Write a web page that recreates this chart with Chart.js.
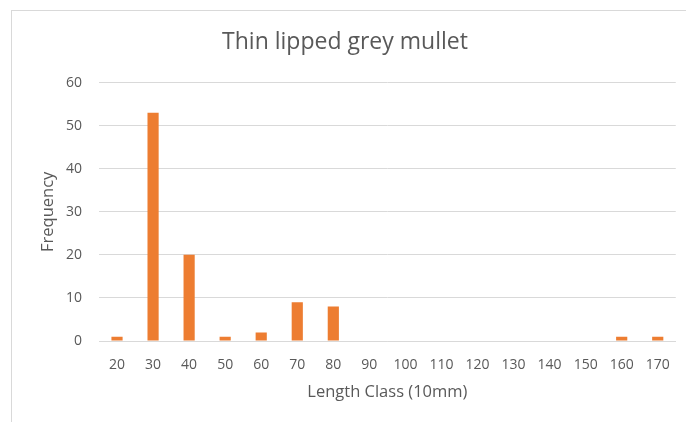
<!DOCTYPE html>
<html><head><meta charset="utf-8">
<script src="https://cdn.jsdelivr.net/npm/chart.js@4/dist/chart.umd.min.js"></script>
<style>
html,body{margin:0;padding:0;background:#fff;}
#wrap{position:relative;width:686px;height:422px;overflow:hidden;}
#frame{position:absolute;left:11px;top:10px;width:700px;height:430px;border-left:1.5px solid #d9d9d9;border-top:1.5px solid #d9d9d9;}
canvas{position:absolute;left:0;top:0;}
</style></head>
<body><div id="wrap"><div id="frame"></div><canvas id="c" width="686" height="422"></canvas></div>
<script>
const categories = ["20","30","40","50","60","70","80","90","100","110","120","130","140","150","160","170"];
const frequency = [1,53,20,1,2,9,8,0,0,0,0,0,0,0,1,1];
const yTicks = [0,10,20,30,40,50,60];
const chartTitle = "Thin lipped grey mullet";
const xTitle = "Length Class (10mm)";
const yTitle = "Frequency";

const FONT = '"Open Sans", sans-serif';
const TXT = '#595959';
new Chart(document.getElementById('c'), {
  type: 'bar',
  data: { labels: categories, datasets: [{ data: frequency, backgroundColor: '#ED7D31', barPercentage: 0.62, categoryPercentage: 0.5 }] },
  options: {
    responsive: false, animation: false, devicePixelRatio: 1,
    layout: { padding: { left: 12, right: 8, top: 0, bottom: 0 } },
    plugins: {
      legend: { display: false }, tooltip: { enabled: false },
      title: { display: true, text: chartTitle, color: TXT, font: { family: FONT, size: 23, weight: 'normal' }, padding: { top: 29, bottom: 26 } }
    },
    scales: {
      x: {
        grid: { display: false, drawTicks: false },
        border: { display: true, color: '#d9d9d9', width: 1 },
        ticks: { color: TXT, font: { family: FONT, size: 14 }, padding: 16, maxRotation: 0, autoSkip: false },
        title: { display: true, text: xTitle, color: TXT, font: { family: FONT, size: 16.5 }, padding: { top: 0, bottom: 20 } },
        afterFit: s => { s.height = 81; }
      },
      y: {
        min: 0, max: 60,
        afterBuildTicks: s => { s.ticks = yTicks.map(v => ({ value: v })); },
        grid: { color: '#d9d9d9', drawTicks: false },
        border: { display: false },
        ticks: { color: TXT, font: { family: FONT, size: 14 }, padding: 17 },
        title: { display: true, text: yTitle, color: TXT, font: { family: FONT, size: 16.5 }, padding: { top: 26, bottom: 0 } },
        afterFit: s => { s.width = 87; }
      }
    }
  }
});
</script></body></html>
